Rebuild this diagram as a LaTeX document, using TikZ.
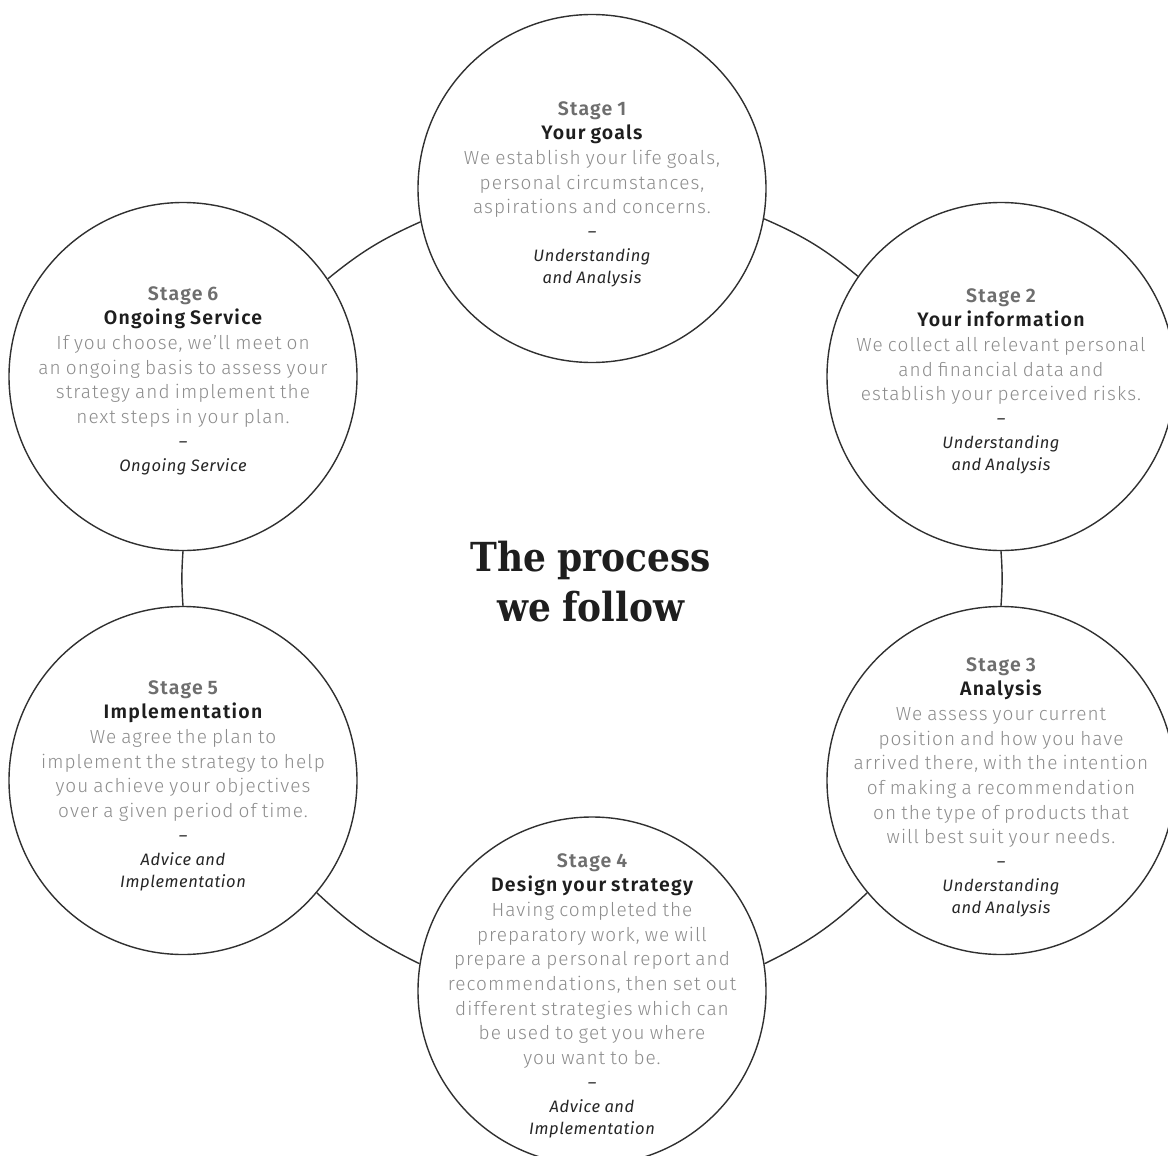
\documentclass[tikz,border=0pt]{standalone}
\usepackage{fontspec}
\setmainfont{Fira Sans}
\newfontfamily\fbody{Fira Sans Light}[LetterSpace=5.5]
\newfontfamily\fsemi{Fira Sans SemiBold}[LetterSpace=6.5]
\newfontfamily\fital{Fira Sans Italic}[LetterSpace=3.5]
\newfontfamily\ftitle{DejaVu Serif Bold}[FakeStretch=0.9]
\definecolor{ringcol}{HTML}{303030}
\definecolor{stagegray}{HTML}{6E6E6E}
\definecolor{titleblack}{HTML}{1E1E1E}
\definecolor{bodygray}{HTML}{8C8C8C}
\definecolor{itblack}{HTML}{262626}
\newcommand\stagetext[4]{%
{\fontsize{19.5}{24.5}\selectfont\fsemi\spaceskip=0.25em\relax\color{stagegray}\rule{0pt}{15pt}#1\par}%
{\fontsize{19.5}{24.5}\selectfont\fsemi\spaceskip=0.25em\relax\color{titleblack}#2\par}%
{\fontsize{19}{24.7}\selectfont\fbody\spaceskip=0.27em\relax\color{bodygray}#3\par}%
{\fontsize{16.5}{24}\selectfont\fital\color{itblack}–\par}%
{\fontsize{16.5}{22}\selectfont\fital\spaceskip=0.26em\relax\color{itblack}\rule{0pt}{23pt}#4\par}%
}
\begin{document}
\begin{tikzpicture}[x=1pt,y=1pt,
  stagecircle/.style={circle, draw=ringcol, line width=1.4pt, minimum size=348pt, inner sep=0pt},
  link/.style={draw=ringcol, line width=1.4pt},
  stagetxt/.style={anchor=north, inner sep=0pt, text width=345pt, align=center}]
\useasboundingbox (0,0) rectangle (1168,-1156);
\clip (0,0) rectangle (1168,-1156);
\fill[white] (0,0) rectangle (1168,-1156);
% circles
\node[stagecircle] (c1) at (592,-188.5) {};
\node[stagecircle] (c2) at (1001,-376.5) {};
\node[stagecircle] (c3) at (1001,-780.5) {};
\node[stagecircle] (c4) at (592,-991) {};
\node[stagecircle] (c5) at (183,-780.5) {};
\node[stagecircle] (c6) at (183,-376.5) {};
% connectors
\draw[link] (c1.-10) to[bend left=8] (c2.145);
\draw[link] (c2.-90) to[bend left=4] (c3.90);
\draw[link] (c3.-140) to[bend left=8.6] (c4.9);
\draw[link] (c4.171) to[bend left=8.6] (c5.-40);
\draw[link] (c5.90) to[bend left=4] (c6.-90);
\draw[link] (c6.34) to[bend left=7.6] (c1.-169);
% texts
\node[stagetxt] (t1) at (592,-100) {\stagetext{Stage 1}{Your goals}{We establish your life goals,\\ personal circumstances,\\ aspirations and concerns.}{Understanding\\ and Analysis}};
\node[stagetxt] (t2) at (1001,-287) {\stagetext{Stage 2}{Your information}{We collect all relevant personal\\ and financial data and\\ establish your perceived risks.}{Understanding\\ and Analysis}};
\node[stagetxt] (t3) at (1001,-656) {\stagetext{Stage 3}{Analysis}{We assess your current\\ position and how you have\\ arrived there, with the intention\\ of making a recommendation\\ on the type of products that\\ will best suit your needs.}{Understanding\\ and Analysis}};
\node[stagetxt] (t4) at (592,-852) {\stagetext{Stage 4}{Design your strategy}{Having completed the\\ preparatory work, we will\\ prepare a personal report and\\ recommendations, then set out\\ different strategies which can\\ be used to get you where\\ you want to be.}{Advice and\\ Implementation}};
\node[stagetxt] (t5) at (183,-679) {\stagetext{Stage 5}{Implementation}{We agree the plan to\\ implement the strategy to help\\ you achieve your objectives\\ over a given period of time.}{Advice and\\ Implementation}};
\node[stagetxt] (t6) at (183,-285) {\stagetext{Stage 6}{Ongoing Service}{If you choose, we’ll meet on\\ an ongoing basis to assess your\\ strategy and implement the\\ next steps in your plan.}{Ongoing Service}};
% title
\node[anchor=north, inner sep=0pt, text width=400pt, align=center] (title) at (591,-536.7)
  {\fontsize{40}{50}\selectfont\ftitle\color{titleblack}\strut The\hspace{11pt}process\\ we\hspace{11pt}follow\par};
\end{tikzpicture}
\end{document}
